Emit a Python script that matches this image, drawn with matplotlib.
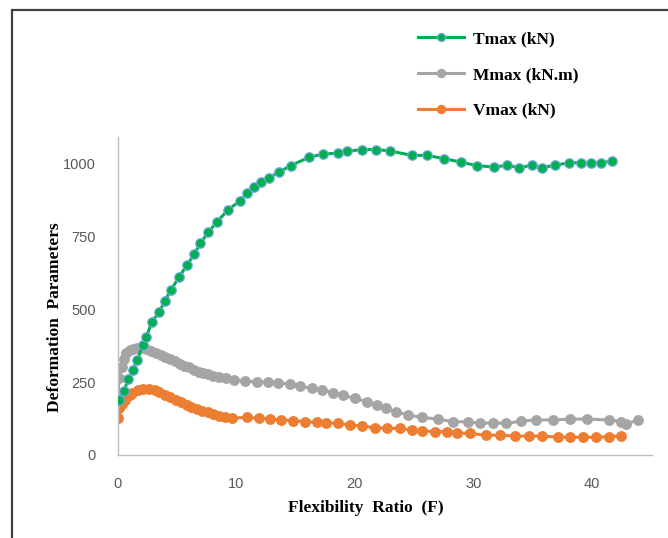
import matplotlib
matplotlib.use("Agg")
import matplotlib.pyplot as plt
from matplotlib.patches import Rectangle

# Data
t_f = [0.1, 0.5, 0.87, 1.24, 1.63, 2.09, 2.4, 2.85, 3.49, 3.97, 4.45, 5.18, 5.80, 6.44, 6.93,
       7.63, 8.34, 9.32, 10.30, 10.92, 11.51, 12.05, 12.78, 13.60, 14.59, 16.16, 17.29, 18.61,
       19.37, 20.58, 21.79, 23.0, 24.81, 26.07, 27.53, 28.94, 30.30, 31.76, 32.86, 33.87, 34.94,
       35.81, 36.88, 38.12, 39.08, 39.95, 40.79, 41.70]
t_v = [190, 220, 259, 291, 325, 377, 405, 456, 491, 529, 565, 611, 650, 688, 725,
       763, 799, 841, 871, 898, 917, 936, 951, 970, 992, 1021, 1031, 1035,
       1041, 1047, 1047, 1042, 1027, 1027, 1016, 1004, 992, 987, 993, 985, 993,
       985, 993, 1002, 1002, 1002, 1002, 1007]

m_f = [0.0, 0.1, 0.3, 0.5, 0.7, 1.0, 1.3, 1.6, 2.0, 2.4, 2.8, 3.2, 3.6, 4.0, 4.4, 4.8, 5.2,
       5.6, 6.0, 6.4, 6.8, 7.2, 7.6, 8.0, 8.5, 9.1, 9.8, 10.7, 11.7, 12.7, 13.5, 14.5, 15.4,
       16.4, 17.2, 18.2, 19.0, 20.0, 21.0, 21.9, 22.6, 23.5, 24.5, 25.7, 27.0, 28.3, 29.6,
       30.6, 31.7, 32.8, 34.0, 35.3, 36.7, 38.2, 39.6, 41.5, 42.5, 42.9, 43.9]
m_v = [205, 263, 300, 330, 348, 360, 365, 367, 366, 362, 356, 350, 343, 337, 330, 322, 313,
       306, 300, 292, 285, 280, 276, 272, 268, 263, 257, 253, 251, 251, 248, 243, 236,
       228, 223, 214, 205, 194, 183, 171, 160, 148, 137, 129, 123, 114, 114,
       108, 111, 108, 116, 120, 120, 123, 123, 120, 114, 106, 120]

v_f = [0.0, 0.1, 0.3, 0.6, 1.0, 1.2, 1.7, 2.1, 2.6, 3.1, 3.5, 4.0, 4.4, 4.9, 5.3, 5.8, 6.2,
       6.7, 7.1, 7.6, 8.0, 8.5, 9.0, 9.6, 10.9, 11.9, 12.8, 13.8, 14.8, 15.8, 16.8, 17.6,
       18.6, 19.6, 20.6, 21.7, 22.7, 23.8, 24.8, 25.7, 26.8, 27.8, 28.6, 29.7, 31.1, 32.3,
       33.5, 34.7, 35.8, 37.2, 38.2, 39.3, 40.4, 41.5, 42.5]
v_v = [126, 160, 175, 190, 205, 211, 223, 226, 226, 223, 216, 205, 200, 190, 183, 173, 165,
       158, 152, 146, 141, 135, 130, 126, 129, 126, 123, 120, 118, 114, 112, 111,
       108, 103, 99, 94, 91, 91, 86, 83, 80, 80, 76, 74, 68, 68,
       65, 65, 65, 61, 61, 61, 61, 63, 65]

y_ticks = [0, 250, 500, 750, 1000]
x_ticks = [0, 10, 20, 30, 40]

W, H = 668, 538
fig = plt.figure(figsize=(W / 100, H / 100), dpi=100)
fig.patch.set_facecolor("white")

# outer frame
fig.add_artist(Rectangle((12 / W, -0.05), 1.2, 1 - 10 / H + 0.05, transform=fig.transFigure,
                         fill=False, edgecolor="#404040", linewidth=1.6))

ax = fig.add_axes([118 / W, 1 - 455 / H, (652 - 118) / W, (455 - 137) / H])

serif = ["Liberation Serif", "DejaVu Serif"]

ax.plot(t_f, t_v, color="#00B050", linewidth=2.2, marker="o", markersize=6.8,
        markerfacecolor="#00B050", markeredgecolor="#6FA8DC", markeredgewidth=0.9,
        label="Tmax (kN)", zorder=3)
ax.plot(m_f, m_v, color="#A5A5A5", linewidth=2.2, marker="o", markersize=6.8,
        markerfacecolor="#A5A5A5", markeredgecolor="#A5A5A5",
        label="Mmax (kN.m)", zorder=2)
ax.plot(v_f, v_v, color="#ED7D31", linewidth=2.2, marker="o", markersize=6.8,
        markerfacecolor="#ED7D31", markeredgecolor="#ED7D31",
        label="Vmax (kN)", zorder=2)

ax.set_xlim(0, 45.1)
ax.set_ylim(0, 1090)
ax.set_xticks(x_ticks)
ax.set_yticks(y_ticks)
ax.tick_params(length=0, labelsize=10.5, labelcolor="#595959")
ax.tick_params(axis="x", pad=16)
ax.tick_params(axis="y", pad=16)
for lab in ax.get_xticklabels() + ax.get_yticklabels():
    lab.set_family(["Liberation Sans", "DejaVu Sans"])

for s in ["top", "right"]:
    ax.spines[s].set_visible(False)
for s in ["left", "bottom"]:
    ax.spines[s].set_color("#BFBFBF")
    ax.spines[s].set_linewidth(1.0)

fig.text(366 / W, 1 - 508 / H, "Flexibility  Ratio  (F)", ha="center", va="center",
         fontsize=12.5, fontweight="bold", family=serif)
fig.text(55 / W, 1 - 317 / H, "Deformation  Parameters", ha="center", va="center",
         rotation=90, fontsize=12.5, fontweight="bold", family=serif)

fig.legend(loc="upper left", bbox_to_anchor=(418 / W, 1 - 31 / H), frameon=False,
           borderpad=0, borderaxespad=0, handlelength=2.65, handletextpad=0.5,
           labelspacing=1.13, prop={"family": serif, "weight": "bold", "size": 12.5},
           markerscale=0.85)

fig.savefig("out.png", dpi=100, facecolor="white")
